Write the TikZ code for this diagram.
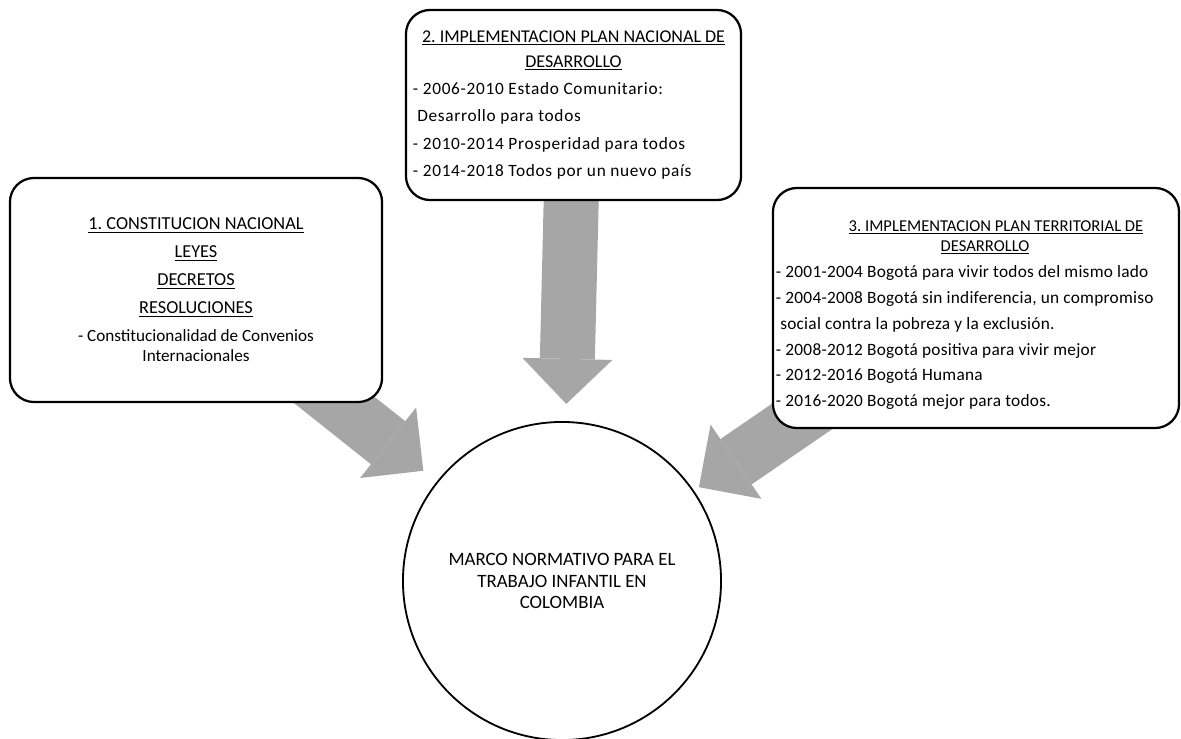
\documentclass[tikz,border=0pt]{standalone}
\usepackage{fontspec}
\setmainfont{Carlito}
\usetikzlibrary{arrows.meta, backgrounds}
\definecolor{arrowgray}{RGB}{166,166,166}
\frenchspacing

\begin{document}
\begin{tikzpicture}[x=0.025cm, y=-0.025cm, box/.style={draw, fill=white, rounded corners=0.6cm, line width=1.6pt, inner sep=0pt}, flow/.style={draw=arrowgray, line width=1.375cm, -{Triangle[width=2.25cm, length=1.125cm, line width=0pt]}, shorten >=0.43cm}]
            \useasboundingbox (0,0) rectangle (1181,738);
            % nodes
            \node[box, minimum width=9.3cm, minimum height=5.6cm, text width=9cm, align=flush center, font=\fontsize{12.2}{14.2}\selectfont] (b1) at (196,290) {%
                {\fontsize{13}{14.2}\selectfont\underline{1. CONSTITUCION NACIONAL}\\[5.7pt]\underline{LEYES}\\[5.7pt]\underline{DECRETOS}\\[5.7pt]\underline{RESOLUCIONES}\\[5.7pt]}
                - Constitucionalidad de Convenios\\Internacionales};
            \node[box, minimum width=8.375cm, minimum height=4.75cm, text width=8.025cm, align=flush left, font=\fontsize{12.3}{19.4}\selectfont\addfontfeatures{LetterSpace=4}] (b2) at (573.5,105) {%
                {\centering\fontsize{12.8}{17.7}\selectfont\addfontfeatures{LetterSpace=0}\underline{2. IMPLEMENTACION PLAN NACIONAL DE}\\\underline{DESARROLLO}\par}
                - 2006-2010 Estado Comunitario:\\
                \hspace*{0.25em}Desarrollo para todos\\
                - 2010-2014 Prosperidad para todos\\
                - 2014-2018 Todos por un nuevo país};
            \node[box, minimum width=10.15cm, minimum height=6cm, text width=10cm, align=flush left, font=\fontsize{12.3}{18.4}\selectfont\addfontfeatures{LetterSpace=1.5}] (b3) at (976,308) {%
                {\centering\fontsize{11.8}{14.2}\selectfont\addfontfeatures{LetterSpace=0}\rule{0pt}{18pt}\hspace*{1cm}\underline{3. IMPLEMENTACION PLAN TERRITORIAL DE}\\\hspace*{0.45cm}\underline{DESARROLLO}\par}
                - 2001-2004 Bogotá para vivir todos del mismo lado\\
                - 2004-2008 Bogotá sin indiferencia, un compromiso\\
                \hspace*{0.25em}social contra la pobreza y la exclusión.\\
                - 2008-2012 Bogotá positiva para vivir mejor\\
                - 2012-2016 Bogotá Humana\\
                - 2016-2020 Bogotá mejor para todos.};
            \node[draw, circle, fill=white, line width=1.3pt, minimum size=7.95cm, align=flush center, font=\fontsize{13.4}{15}\selectfont] (circ) at (562,581) {MARCO NORMATIVO PARA EL\\TRABAJO INFANTIL EN\\COLOMBIA};
            % edges
            \begin{scope}[on background layer]
                \draw [flow] (b1.center) -- (circ);
                \draw [flow] (b2.center) -- (circ);
                \draw [flow, shorten >=0.15cm] ([yshift=0.27cm]b3.center) -- (circ);
            \end{scope}
        \end{tikzpicture}
\end{document}
